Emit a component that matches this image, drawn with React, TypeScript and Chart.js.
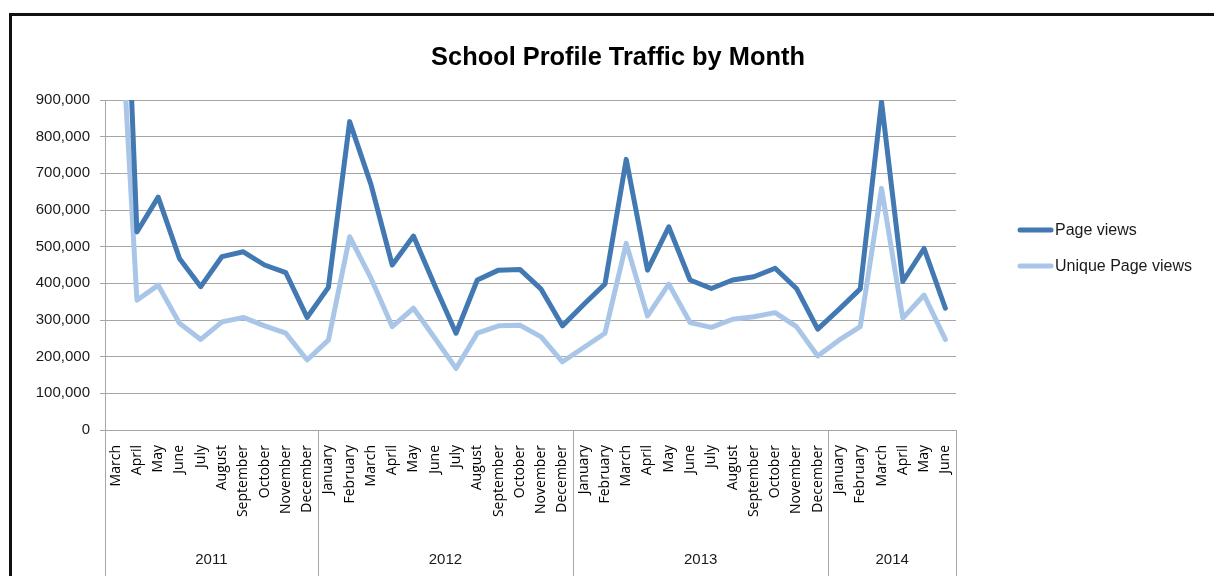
import React, { useEffect, useRef } from "react";
import { Chart, registerables } from "chart.js";

Chart.register(...registerables);

// ---- data ----
const titleText = "School Profile Traffic by Month";
const years: string[] = ["2011", "2012", "2013", "2014"];
const monthsPerYear: string[][] = [
  ["March", "April", "May", "June", "July", "August", "September", "October", "November", "December"],
  ["January", "February", "March", "April", "May", "June", "July", "August", "September", "October", "November", "December"],
  ["January", "February", "March", "April", "May", "June", "July", "August", "September", "October", "November", "December"],
  ["January", "February", "March", "April", "May", "June"],
];
const categories: string[] = monthsPerYear.flat();

const pageViews: number[] = [
  2000000, 540000, 635000, 468000, 391000, 473000, 486000, 450000, 429000, 307000,
  389000, 841000, 670000, 450000, 529000, 394000, 264000, 409000, 436000, 438000, 384000, 284000,
  342000, 398000, 738000, 436000, 554000, 409000, 386000, 409000, 418000, 441000, 386000, 275000,
  329000, 385000, 895000, 405000, 495000, 332000,
];
const uniquePageViews: number[] = [
  1400000, 354000, 395000, 291000, 247000, 295000, 307000, 284000, 264000, 191000,
  245000, 527000, 414000, 282000, 332000, 251000, 168000, 264000, 284000, 286000, 254000, 186000,
  225000, 264000, 509000, 311000, 398000, 293000, 280000, 302000, 309000, 320000, 282000, 202000,
  245000, 282000, 659000, 305000, 368000, 247000,
];
const yTicks: number[] = [0, 100000, 200000, 300000, 400000, 500000, 600000, 700000, 800000, 900000];

const DARK = "#4279B2";
const LIGHT = "#A9C6E8";
const GRID = "#a6a6a6";
const SANS = "'Liberation Sans', Arial, sans-serif";

const titlePlugin = {
  id: "frameTitle",
  afterDraw(chart: any) {
    const { ctx } = chart;
    ctx.save();
    ctx.fillStyle = "#000";
    ctx.font = `bold 25.4px ${SANS}`;
    ctx.textAlign = "center";
    ctx.textBaseline = "alphabetic";
    ctx.fillText(titleText, 618, 65);
    ctx.restore();
  },
};

const yearPlugin = {
  id: "yearGroups",
  afterDraw(chart: any) {
    const xs = chart.scales.x;
    const { ctx, chartArea } = chart;
    const n = categories.length;
    const band = xs.getPixelForValue(1) - xs.getPixelForValue(0);
    const edgeAt = (i: number) =>
      i < n ? xs.getPixelForValue(i) - band / 2 : xs.getPixelForValue(n - 1) + band / 2;
    const edges: number[] = [0];
    monthsPerYear.forEach((m) => edges.push(edges[edges.length - 1] + m.length));
    ctx.save();
    ctx.strokeStyle = GRID;
    ctx.lineWidth = 1;
    edges.forEach((e) => {
      const px = Math.round(edgeAt(e)) + 0.5;
      ctx.beginPath();
      ctx.moveTo(px, chartArea.bottom);
      ctx.lineTo(px, chart.height);
      ctx.stroke();
    });
    ctx.fillStyle = "#1a1a1a";
    ctx.font = `15px ${SANS}`;
    ctx.textAlign = "center";
    ctx.textBaseline = "middle";
    years.forEach((yr, i) => {
      const c = (edgeAt(edges[i]) + edgeAt(edges[i + 1])) / 2;
      ctx.fillText(yr, c, chartArea.bottom + 130);
    });
    ctx.restore();
  },
};

const legendPlugin = {
  id: "sideLegend",
  afterDraw(chart: any) {
    const { ctx, chartArea } = chart;
    const x0 = chartArea.right + 62;
    chart.data.datasets.forEach((ds: any, i: number) => {
      const y = chartArea.top + 130 + i * 36;
      ctx.save();
      ctx.strokeStyle = ds.borderColor;
      ctx.lineWidth = 5;
      ctx.lineCap = "round";
      ctx.beginPath();
      ctx.moveTo(x0 + 2, y);
      ctx.lineTo(x0 + 33, y);
      ctx.stroke();
      ctx.fillStyle = "#1a1a1a";
      ctx.font = `16px ${SANS}`;
      ctx.textAlign = "left";
      ctx.textBaseline = "middle";
      ctx.fillText(ds.label, x0 + 37, y + 1);
      ctx.restore();
    });
  },
};

export default function App() {
  const ref = useRef<HTMLCanvasElement | null>(null);

  useEffect(() => {
    if (!ref.current) return;
    const chart = new Chart(ref.current, {
      type: "line",
      data: {
        labels: categories,
        datasets: [
          {
            label: "Page views",
            data: pageViews,
            borderColor: DARK,
            backgroundColor: DARK,
            borderWidth: 5,
            pointRadius: 0,
            borderJoinStyle: "round",
            borderCapStyle: "round",
            tension: 0,
            clip: { left: 5, right: 5, top: 0, bottom: 5 },
          },
          {
            label: "Unique Page views",
            data: uniquePageViews,
            borderColor: LIGHT,
            backgroundColor: LIGHT,
            borderWidth: 5,
            pointRadius: 0,
            borderJoinStyle: "round",
            borderCapStyle: "round",
            tension: 0,
            clip: { left: 5, right: 5, top: 0, bottom: 5 },
          },
        ],
      },
      options: {
        animation: false,
        responsive: false,
        layout: { padding: { left: 0, right: 258, top: 100, bottom: 0 } },
        plugins: {
          legend: { display: false },
          tooltip: { enabled: false },
          title: { display: false },
        },
        scales: {
          x: {
            type: "category",
            offset: true,
            grid: { display: false },
            border: { display: true, color: GRID, width: 1 },
            ticks: {
              autoSkip: false,
              minRotation: 90,
              maxRotation: 90,
              padding: 7,
              color: "#000",
              font: { family: "'Open Sans', sans-serif", size: 14 },
            },
            afterFit: (s: any) => {
              s.height = 146;
            },
          },
          y: {
            min: 0,
            max: 900000,
            afterBuildTicks: (s: any) => {
              s.ticks = yTicks.map((v) => ({ value: v }));
            },
            grid: { color: GRID, lineWidth: 1, tickLength: 5, drawTicks: true },
            border: { display: true, color: GRID, width: 1 },
            ticks: {
              padding: 10,
              color: "#1a1a1a",
              font: { family: SANS, size: 15 },
              callback: (v: any) => Number(v).toLocaleString("en-US"),
            },
            afterFit: (s: any) => {
              s.width = 105;
            },
          },
        },
      },
      plugins: [titlePlugin, yearPlugin, legendPlugin],
    });
    return () => chart.destroy();
  }, []);

  return (
    <div style={{ position: "absolute", left: 0, top: 0, width: 1214, height: 576, overflow: "hidden", background: "#fff" }}>
      <canvas ref={ref} width={1214} height={576} style={{ position: "absolute", left: 0, top: 0 }} />
      <div
        style={{
          position: "absolute",
          left: 9,
          top: 13,
          width: 1300,
          height: 700,
          borderTop: "3px solid #111",
          borderLeft: "3px solid #111",
          pointerEvents: "none",
        }}
      />
    </div>
  );
}
